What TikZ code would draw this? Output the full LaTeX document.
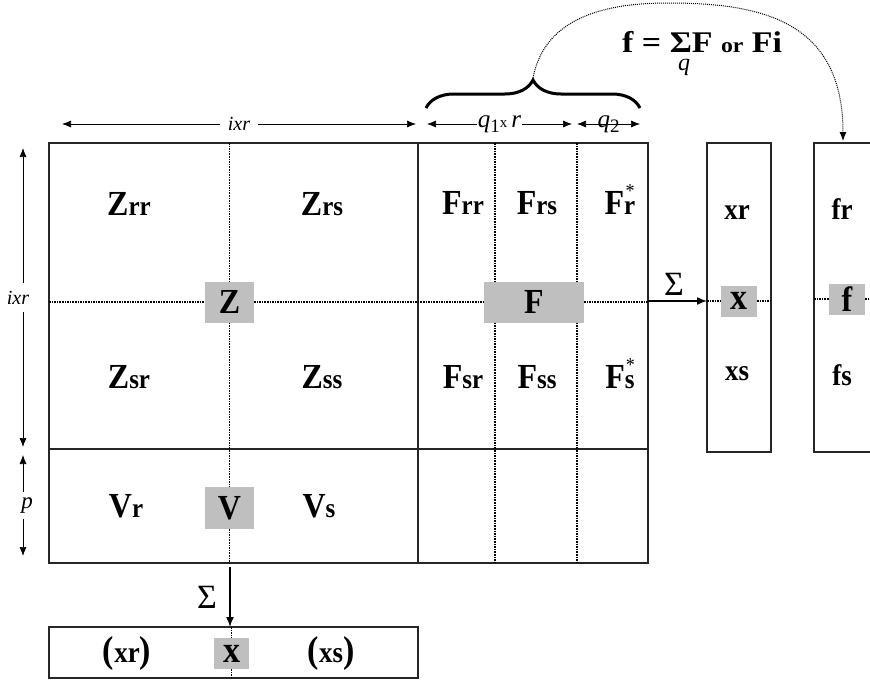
\documentclass[tikz,border=0pt]{standalone}
\usepackage{fontspec}
\usepackage{graphicx}
\setmainfont{Liberation Serif}
\usetikzlibrary{arrows.meta,decorations.pathreplacing,calc}
\newcommand\MB[1]{\scalebox{1}[1.1]{\fontsize{32}{32}\selectfont\bfseries #1}}
\newcommand\MS[1]{\scalebox{1}[1.1]{\fontsize{25}{25}\selectfont\bfseries #1}}
\newcommand\MX[1]{\scalebox{1}[1.1]{\fontsize{27}{27}\selectfont\bfseries #1}}
\newcommand\MP[1]{\scalebox{1}[1.1]{\fontsize{34}{34}\selectfont\bfseries #1}}
\begin{document}
\begin{tikzpicture}[x=1pt,y=-1pt,
  box/.style={draw=black!85, line width=1.1pt, inner sep=0pt, outer sep=0pt},
  divider/.style={draw=black!85, line width=1.1pt},
  grayb/.style={fill=black!25, inner sep=0pt, outer sep=0pt},
  dotl/.style={densely dotted, line width=1.6pt},
  lbl/.style={inner sep=0pt, anchor=base},
  dimarrow/.style={line width=0.7pt, {Latex[length=9pt,width=7pt]}-{Latex[length=9pt,width=7pt]}},
  dimlbl/.style={fill=white, inner sep=2pt, font=\fontsize{20}{20}\selectfont\itshape},
  sumarrow/.style={line width=1.5pt, -{Latex[length=10pt,width=8pt]}},
  sigma/.style={inner sep=0pt, anchor=base, font=\fontsize{34}{34}\selectfont}
]
\clip (0,0) rectangle (870,680);
\fill[white] (0,0) rectangle (870,680);

% boxes
\node[box, minimum width=599pt, minimum height=420pt, anchor=north west] (main) at (49,143) {};
\node[box, minimum width=369pt, minimum height=51pt, anchor=north west] (bottom) at (49,627) {};
\node[box, minimum width=64pt, minimum height=309pt, anchor=north west] (xbox) at (707,143) {};
\node[box, minimum width=70pt, minimum height=309pt, anchor=north west] (fbox) at (814,143) {};
\draw[divider] (418,143) -- (418,563);
\draw[divider] (49,449) -- (648,449);

% gray boxes
\node[grayb, minimum width=49pt, minimum height=41pt] (Z) at (229.5,302) {\MB{Z}};
\node[grayb, minimum width=100pt, minimum height=41pt] (F) at (534,302) {\MB{F}};
\node[grayb, minimum width=49pt, minimum height=42pt] (V) at (229.5,508) {\MB{V}};
\node[grayb, minimum width=35pt, minimum height=31pt] (xb) at (231.5,653.5) {\MP{x}};
\node[grayb, minimum width=36pt, minimum height=31pt] (xg) at (739,301) {\MP{x}};
\node[grayb, minimum width=36pt, minimum height=31pt] (fg) at (847,299) {\MB{f}};

% dotted lines
\draw[dotl] (Z.north |- main.north) -- (Z.north);
\draw[dotl] (Z.south) -- (V.north);
\draw[dotl] (V.south) -- (V.south |- main.south);
\draw[dotl] (xb.north |- bottom.north) -- (xb.north);
\draw[dotl] (xb.south) -- (xb.south |- bottom.south);
\draw[dotl] (main.west |- Z) -- (Z.west);
\draw[dotl] (Z.east) -- (F.west);
\draw[dotl] (F.east) -- (F.east -| main.east);
\draw[dotl] (495,143) -- (495,281.5);
\draw[dotl] (495,322.5) -- (495,563);
\draw[dotl] (577,143) -- (577,281.5);
\draw[dotl] (577,322.5) -- (577,563);
\draw[dotl] (xbox.west |- xg) -- (xg.west);
\draw[dotl] (xg.east) -- (xg.east -| xbox.east);
\draw[dotl] (fbox.west |- fg) -- (fg.west);
\draw[dotl] (fg.east) -- (fg.east -| fbox.east);

% sum arrows
\coordinate (sumR0) at (648,301);
\draw[sumarrow] (sumR0) -- (xbox.west |- sumR0);
\node[sigma] (sigR) at (674,295) {Σ};
\coordinate (sumD0) at (230,567);
\draw[sumarrow] (sumD0) -- (sumD0 |- bottom.north);
\node[sigma] (sigD) at (207,608) {Σ};

% labels Z
\node[lbl] (zrr) at (129,215) {\MB{Z}\MS{rr}};
\node[lbl] (zrs) at (322,215) {\MB{Z}\MS{rs}};
\node[lbl] (zsr) at (129,388) {\MB{Z}\MS{sr}};
\node[lbl] (zss) at (322,388) {\MB{Z}\MS{ss}};
% labels F
\node[lbl] (frr) at (463,214) {\MB{F}\MS{rr}};
\node[lbl] (frs) at (537,214) {\MB{F}\MS{rs}};
\node[lbl] (frst) at (620,214) {\MB{F}\MS{\makebox[0pt][l]{\hspace{1.5pt}\raisebox{15pt}{\fontsize{18}{18}\selectfont\mdseries *}}r}};
\node[lbl] (fsr) at (463,388) {\MB{F}\MS{sr}};
\node[lbl] (fss) at (537,388) {\MB{F}\MS{ss}};
\node[lbl] (fsst) at (620,388) {\MB{F}\MS{\makebox[0pt][l]{\hspace{1pt}\raisebox{15pt}{\fontsize{18}{18}\selectfont\mdseries *}}s}};
% x and f vectors
\node[lbl] (xr) at (737,219) {\MX{xr}};
\node[lbl] (xs) at (737,380) {\MX{xs}};
\node[lbl] (fr) at (842,219) {\MX{fr}};
\node[lbl] (fs) at (842,385) {\MX{fs}};
% V
\node[lbl] (vr) at (126,517) {\MB{V}\MS{r}};
\node[lbl] (vs) at (319,517) {\MB{V}\MS{s}};
% bottom
\node[lbl] (bxr) at (127,662) {\MP{(}\MX{xr}\MP{)}};
\node[lbl] (bxs) at (331,662) {\MP{(}\MX{xs}\MP{)}};

% dimension arrows
\coordinate (d1a) at (62,124);  \coordinate (d1b) at (416,124);
\draw[dimarrow] (d1a) -- (d1b) node[midway, dimlbl, inner xsep=8pt] (d1l) {ixr};
\coordinate (d2a) at (427,124); \coordinate (d2b) at (572,124);
\draw[dimarrow] (d2a) -- (d2b) node[midway, dimlbl, inner sep=1pt] (d2l) {\fontsize{25}{25}\selectfont q\raisebox{-5pt}{\fontsize{19}{19}\selectfont\upshape 1}{\fontsize{15}{15}\selectfont\upshape x}\,r};
\coordinate (d3a) at (577,124); \coordinate (d3b) at (640,124);
\draw[dimarrow] (d3a) -- (d3b) node[midway, dimlbl, inner sep=0pt, fill=none] (d3l) {\fontsize{25}{25}\selectfont q\raisebox{-5pt}{\fontsize{19}{19}\selectfont\upshape 2}};
\coordinate (d4a) at (23,148);  \coordinate (d4b) at (23,447);
\draw[dimarrow] (d4a) -- (d4b) node[midway, dimlbl, inner sep=3pt, xshift=-5pt, inner ysep=8pt] (d4l) {ixr};
\coordinate (d5a) at (23,455);  \coordinate (d5b) at (23,556);
\draw[dimarrow] (d5a) -- (d5b) node[midway, dimlbl, inner sep=6pt, font=\fontsize{23}{23}\selectfont\itshape, xshift=4pt] (d5l) {p};

% brace and formula
\draw[decorate, decoration={brace, amplitude=28pt}, line width=3pt] (426,108) -- (640,108);
\coordinate (bracetip) at (533,78);
\coordinate (curvetop) at (668,3);
\coordinate (farrow) at (843,141);
\draw[densely dotted, line width=1pt, -{Latex[length=9pt,width=7pt]}] (bracetip) .. controls (545,15) and (610,3) .. (curvetop) .. controls (760,3) and (843,20) .. (farrow);
\node[lbl, anchor=base west] (formula) at (622,52) {\scalebox{1.13}[1]{\fontsize{30}{30}\selectfont\bfseries f = ΣF {\fontsize{21}{21}\selectfont or} Fi}};
\node[lbl] (qsub) at (684,70) {\fontsize{24}{24}\selectfont\itshape q};
\end{tikzpicture}
\end{document}
